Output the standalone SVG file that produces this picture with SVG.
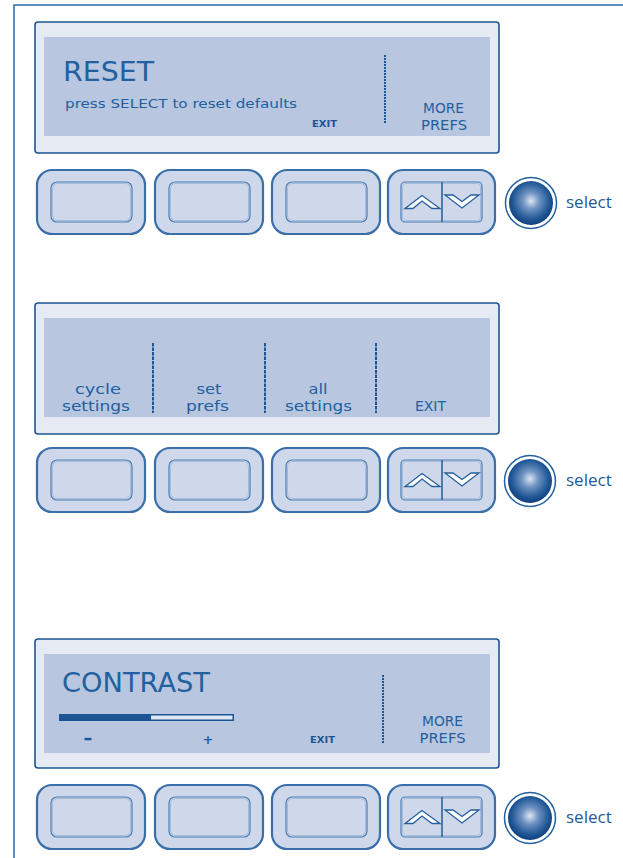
<svg xmlns="http://www.w3.org/2000/svg" xmlns:xlink="http://www.w3.org/1999/xlink" width="623" height="858" viewBox="0 0 623 858">
<style>
.frame{fill:none;stroke:#2f6aa6;stroke-width:1.5}
.panel{fill:#e6eaf3;stroke:#1d5592;stroke-width:1.6}
.lcd{fill:#b8c6df}
.lcdt{font-family:"DejaVu Sans","Liberation Sans",sans-serif;fill:#22609f}
.big{font-size:27px}
.mid{font-size:14.5px}
.small{font-size:13px}
.exit{font-size:9.5px;font-weight:bold;fill:#1d5594}
.dot{stroke:#1d5594;stroke-width:2;stroke-dasharray:2 1}
.dash{stroke:#1d5594;stroke-width:2;stroke-dasharray:3.5 1}
.bout{fill:#cfd8ea;stroke:#3a6fa9;stroke-width:2.2}
.bin{fill:#cfd8ea;stroke:#4a7eb5;stroke-width:1.2}
.bin2{fill:none;stroke:#a9bbd8;stroke-width:1}
.ring{fill:#ffffff;stroke:#22609e;stroke-width:1.5}
.chev{fill:#ffffff;stroke:#245f9f;stroke-width:1.3;stroke-linejoin:miter}
.sel{font-family:"Open Sans","Liberation Sans",sans-serif;font-size:17px;fill:#1f5a96}
</style>
<defs>
<radialGradient id="ball" cx="0.5" cy="0.45" r="0.55">
<stop offset="0" stop-color="#dde6f3"/>
<stop offset="0.35" stop-color="#6f92c2"/>
<stop offset="0.75" stop-color="#235a98"/>
<stop offset="1" stop-color="#0f3f7a"/>
</radialGradient>
<g id="btn">
<rect class="bout" x="0" y="0" width="108" height="64" rx="15"/>
<rect class="bin" x="14" y="12" width="81" height="40" rx="6"/>
<rect class="bin2" x="15.5" y="13.5" width="78" height="37" rx="5"/>
</g>
<g id="arrows">
<rect class="bout" x="0" y="0" width="107" height="64" rx="15"/>
<rect class="bin" x="13" y="12" width="81" height="40" rx="4"/>
<rect class="bin2" x="14.5" y="13.5" width="78" height="37" rx="3"/>
<line x1="54" y1="12" x2="54" y2="52" stroke="#2a64a3" stroke-width="1.6"/>
<polygon class="chev" points="17,38.5 34,25.5 52,38.5 44,38.5 34,31 25,38.5"/>
<polygon class="chev" points="57,25 65,25 74,31.5 83,25 91,25 74,38"/>
</g>
<g id="knob">
<circle class="ring" cx="0" cy="0" r="25.5"/>
<circle cx="0" cy="0" r="22" fill="url(#ball)"/>
</g>
</defs>
<rect width="623" height="858" fill="#ffffff"/>
<g id="frame">
<polyline class="frame" points="14,858 14,5 623,5"/>
</g>

<g id="screen-reset">
<rect class="panel" x="35" y="22" width="464" height="131" rx="3"/>
<rect class="lcd" x="44" y="37" width="446" height="99"/>
<text class="lcdt big" x="63" y="81" textLength="91" lengthAdjust="spacingAndGlyphs">RESET</text>
<text class="lcdt small" x="65" y="108" textLength="232" lengthAdjust="spacingAndGlyphs">press SELECT to reset defaults</text>
<text class="lcdt exit" x="312" y="127" textLength="25" lengthAdjust="spacingAndGlyphs">EXIT</text>
<line class="dot" x1="385" y1="55" x2="385" y2="124"/>
<text class="lcdt mid" x="443.5" y="113" text-anchor="middle" textLength="41" lengthAdjust="spacingAndGlyphs">MORE</text>
<text class="lcdt mid" x="444" y="130" text-anchor="middle" textLength="46" lengthAdjust="spacingAndGlyphs">PREFS</text>
</g>
<g id="controls-1">
<use xlink:href="#btn" x="37" y="170"/>
<use xlink:href="#btn" x="155" y="170"/>
<use xlink:href="#btn" x="272" y="170"/>
<use xlink:href="#arrows" x="388" y="170"/>
<use xlink:href="#knob" x="531" y="203"/>
<text class="sel" x="566" y="208">select</text>
</g>

<g id="screen-menu">
<rect class="panel" x="35" y="303" width="464" height="131" rx="3"/>
<rect class="lcd" x="44" y="318" width="446" height="99"/>
<line class="dash" x1="153" y1="343" x2="153" y2="413"/>
<line class="dash" x1="265" y1="343" x2="265" y2="413"/>
<line class="dash" x1="376" y1="343" x2="376" y2="413"/>
<text class="lcdt mid" x="98" y="394" text-anchor="middle" textLength="46" lengthAdjust="spacingAndGlyphs">cycle</text>
<text class="lcdt mid" x="96" y="411" text-anchor="middle" textLength="68" lengthAdjust="spacingAndGlyphs">settings</text>
<text class="lcdt mid" x="209" y="394" text-anchor="middle" textLength="25" lengthAdjust="spacingAndGlyphs">set</text>
<text class="lcdt mid" x="207.5" y="411" text-anchor="middle" textLength="43" lengthAdjust="spacingAndGlyphs">prefs</text>
<text class="lcdt mid" x="318" y="394" text-anchor="middle" textLength="19" lengthAdjust="spacingAndGlyphs">all</text>
<text class="lcdt mid" x="318.5" y="411" text-anchor="middle" textLength="67" lengthAdjust="spacingAndGlyphs">settings</text>
<text class="lcdt mid" x="430.5" y="411" text-anchor="middle" textLength="31" lengthAdjust="spacingAndGlyphs">EXIT</text>
</g>
<g id="controls-2">
<use xlink:href="#btn" x="37" y="448"/>
<use xlink:href="#btn" x="155" y="448"/>
<use xlink:href="#btn" x="272" y="448"/>
<use xlink:href="#arrows" x="388" y="448"/>
<use xlink:href="#knob" x="530" y="481"/>
<text class="sel" x="566" y="486">select</text>
</g>

<g id="screen-contrast">
<rect class="panel" x="35" y="639" width="464" height="129" rx="3"/>
<rect class="lcd" x="44" y="654" width="446" height="99"/>
<text class="lcdt big" x="62" y="692" textLength="148" lengthAdjust="spacingAndGlyphs">CONTRAST</text>
<rect x="59" y="714" width="175" height="7" fill="#1d5594"/>
<rect x="151" y="715.5" width="81.5" height="4" fill="#dfe6f2"/>
<rect x="84.5" y="737.8" width="7" height="2.5" fill="#1d5594"/>
<text class="lcdt" x="208" y="744" text-anchor="middle" font-size="13" font-weight="bold" fill="#1d5594">+</text>
<text class="lcdt exit" x="310" y="743" textLength="25" lengthAdjust="spacingAndGlyphs">EXIT</text>
<line class="dot" x1="383" y1="675" x2="383" y2="744"/>
<text class="lcdt mid" x="442.5" y="726" text-anchor="middle" textLength="41" lengthAdjust="spacingAndGlyphs">MORE</text>
<text class="lcdt mid" x="442.5" y="743" text-anchor="middle" textLength="46" lengthAdjust="spacingAndGlyphs">PREFS</text>
</g>
<g id="controls-3">
<use xlink:href="#btn" x="37" y="785"/>
<use xlink:href="#btn" x="155" y="785"/>
<use xlink:href="#btn" x="272" y="785"/>
<use xlink:href="#arrows" x="388" y="785"/>
<use xlink:href="#knob" x="530" y="818"/>
<text class="sel" x="566" y="823">select</text>
</g>
</svg>
